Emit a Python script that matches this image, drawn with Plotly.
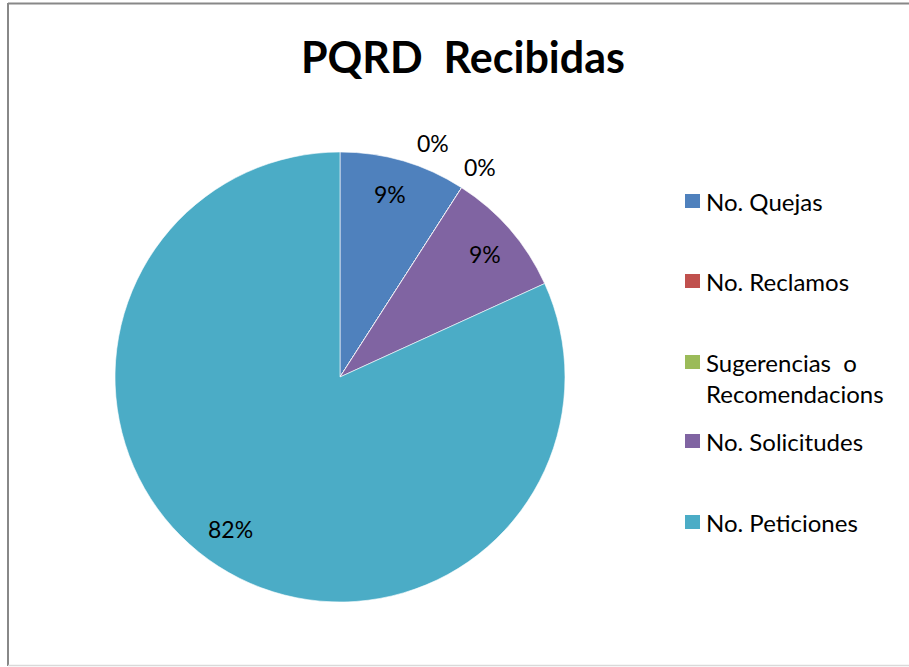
import math
import plotly.graph_objects as go

# ---- data ----
categories = ["No. Quejas", "No. Reclamos", "Sugerencias  o<br>Recomendacions",
              "No. Solicitudes", "No. Peticiones"]
values = [1, 0, 0, 1, 9]
colors = ["#4F81BD", "#C0504D", "#9BBB59", "#8064A2", "#4BACC6"]
title_text = "PQRD  Recibidas"

W, H = 909, 667
CX, CY, R = 340, 377, 225

def px(x):
    return x / W

def py(y):
    return 1 - y / H

FONT = "Lato, 'Open Sans', sans-serif"

fig = go.Figure()
fig.add_trace(go.Pie(
    labels=[c.replace("<br>", " ") for c in categories],
    values=values,
    marker=dict(colors=colors, line=dict(color="white", width=0.6)),
    sort=False,
    direction="clockwise",
    rotation=0,
    textinfo="none",
    hoverinfo="label+value+percent",
    showlegend=False,
    domain=dict(x=[px(CX - R), px(CX + R)], y=[py(CY + R), py(CY - R)]),
))

annotations = []
total = sum(values)
cum = 0
# label placement tweaks (angle nudge in degrees, radius fraction)
label_tweaks = {0: (-1, 0.845), 1: (-11, 1.12), 2: (1, 1.12), 3: (0.5, 0.845), 4: (3, 0.83)}
for i, v in enumerate(values):
    start = cum / total * 360
    cum += v
    end = cum / total * 360
    mid = (start + end) / 2
    dang, frac = label_tweaks.get(i, (0, 0.84))
    mid += dang
    t = math.radians(mid)
    x = CX + frac * R * math.sin(t)
    y = CY - frac * R * math.cos(t)
    pct = round(v / total * 100)
    annotations.append(dict(
        x=px(x), y=py(y), xref="paper", yref="paper",
        text=f"{pct}%", showarrow=False,
        font=dict(family=FONT, size=23, color="#000000"),
        xanchor="center", yanchor="middle",
    ))

# custom legend
leg_y = [201, 281, 378, 441, 522]
for i, (cat, col) in enumerate(zip(categories, colors)):
    yc = leg_y[i]
    marker_y = yc if "<br>" not in cat else 362
    annotations.append(dict(
        x=px(704), y=py(yc), xref="paper", yref="paper",
        text=cat, showarrow=False, align="left",
        font=dict(family=FONT, size=24, color="#000000"),
        xanchor="left", yanchor="middle",
    ))
    fig.add_shape(type="rect", xref="paper", yref="paper",
                  x0=px(685), x1=px(700), y0=py(marker_y - 7), y1=py(marker_y + 7),
                  fillcolor=col, line=dict(width=0))

# title
annotations.append(dict(
    x=px(463), y=py(57), xref="paper", yref="paper",
    text=f"<b>{title_text}</b>", showarrow=False,
    font=dict(family=FONT, size=43, color="#000000"),
    xanchor="center", yanchor="middle",
))

# chart border
fig.add_shape(type="line", xref="paper", yref="paper",
              x0=px(8), x1=px(909), y0=py(3.5), y1=py(3.5),
              line=dict(color="#888888", width=2))
fig.add_shape(type="line", xref="paper", yref="paper",
              x0=px(8), x1=px(8), y0=py(3), y1=py(666),
              line=dict(color="#888888", width=2))
fig.add_shape(type="line", xref="paper", yref="paper",
              x0=px(8), x1=px(909), y0=py(665.5), y1=py(665.5),
              line=dict(color="#d9d9d9", width=1.5))

fig.update_layout(
    width=W, height=H,
    margin=dict(l=0, r=0, t=0, b=0),
    paper_bgcolor="white", plot_bgcolor="white",
    annotations=annotations,
    showlegend=False,
)

fig.write_html(
    "out.html",
    config={"displayModeBar": False},
    post_script="document.body.style.margin='0';document.body.style.overflow='hidden';",
)
